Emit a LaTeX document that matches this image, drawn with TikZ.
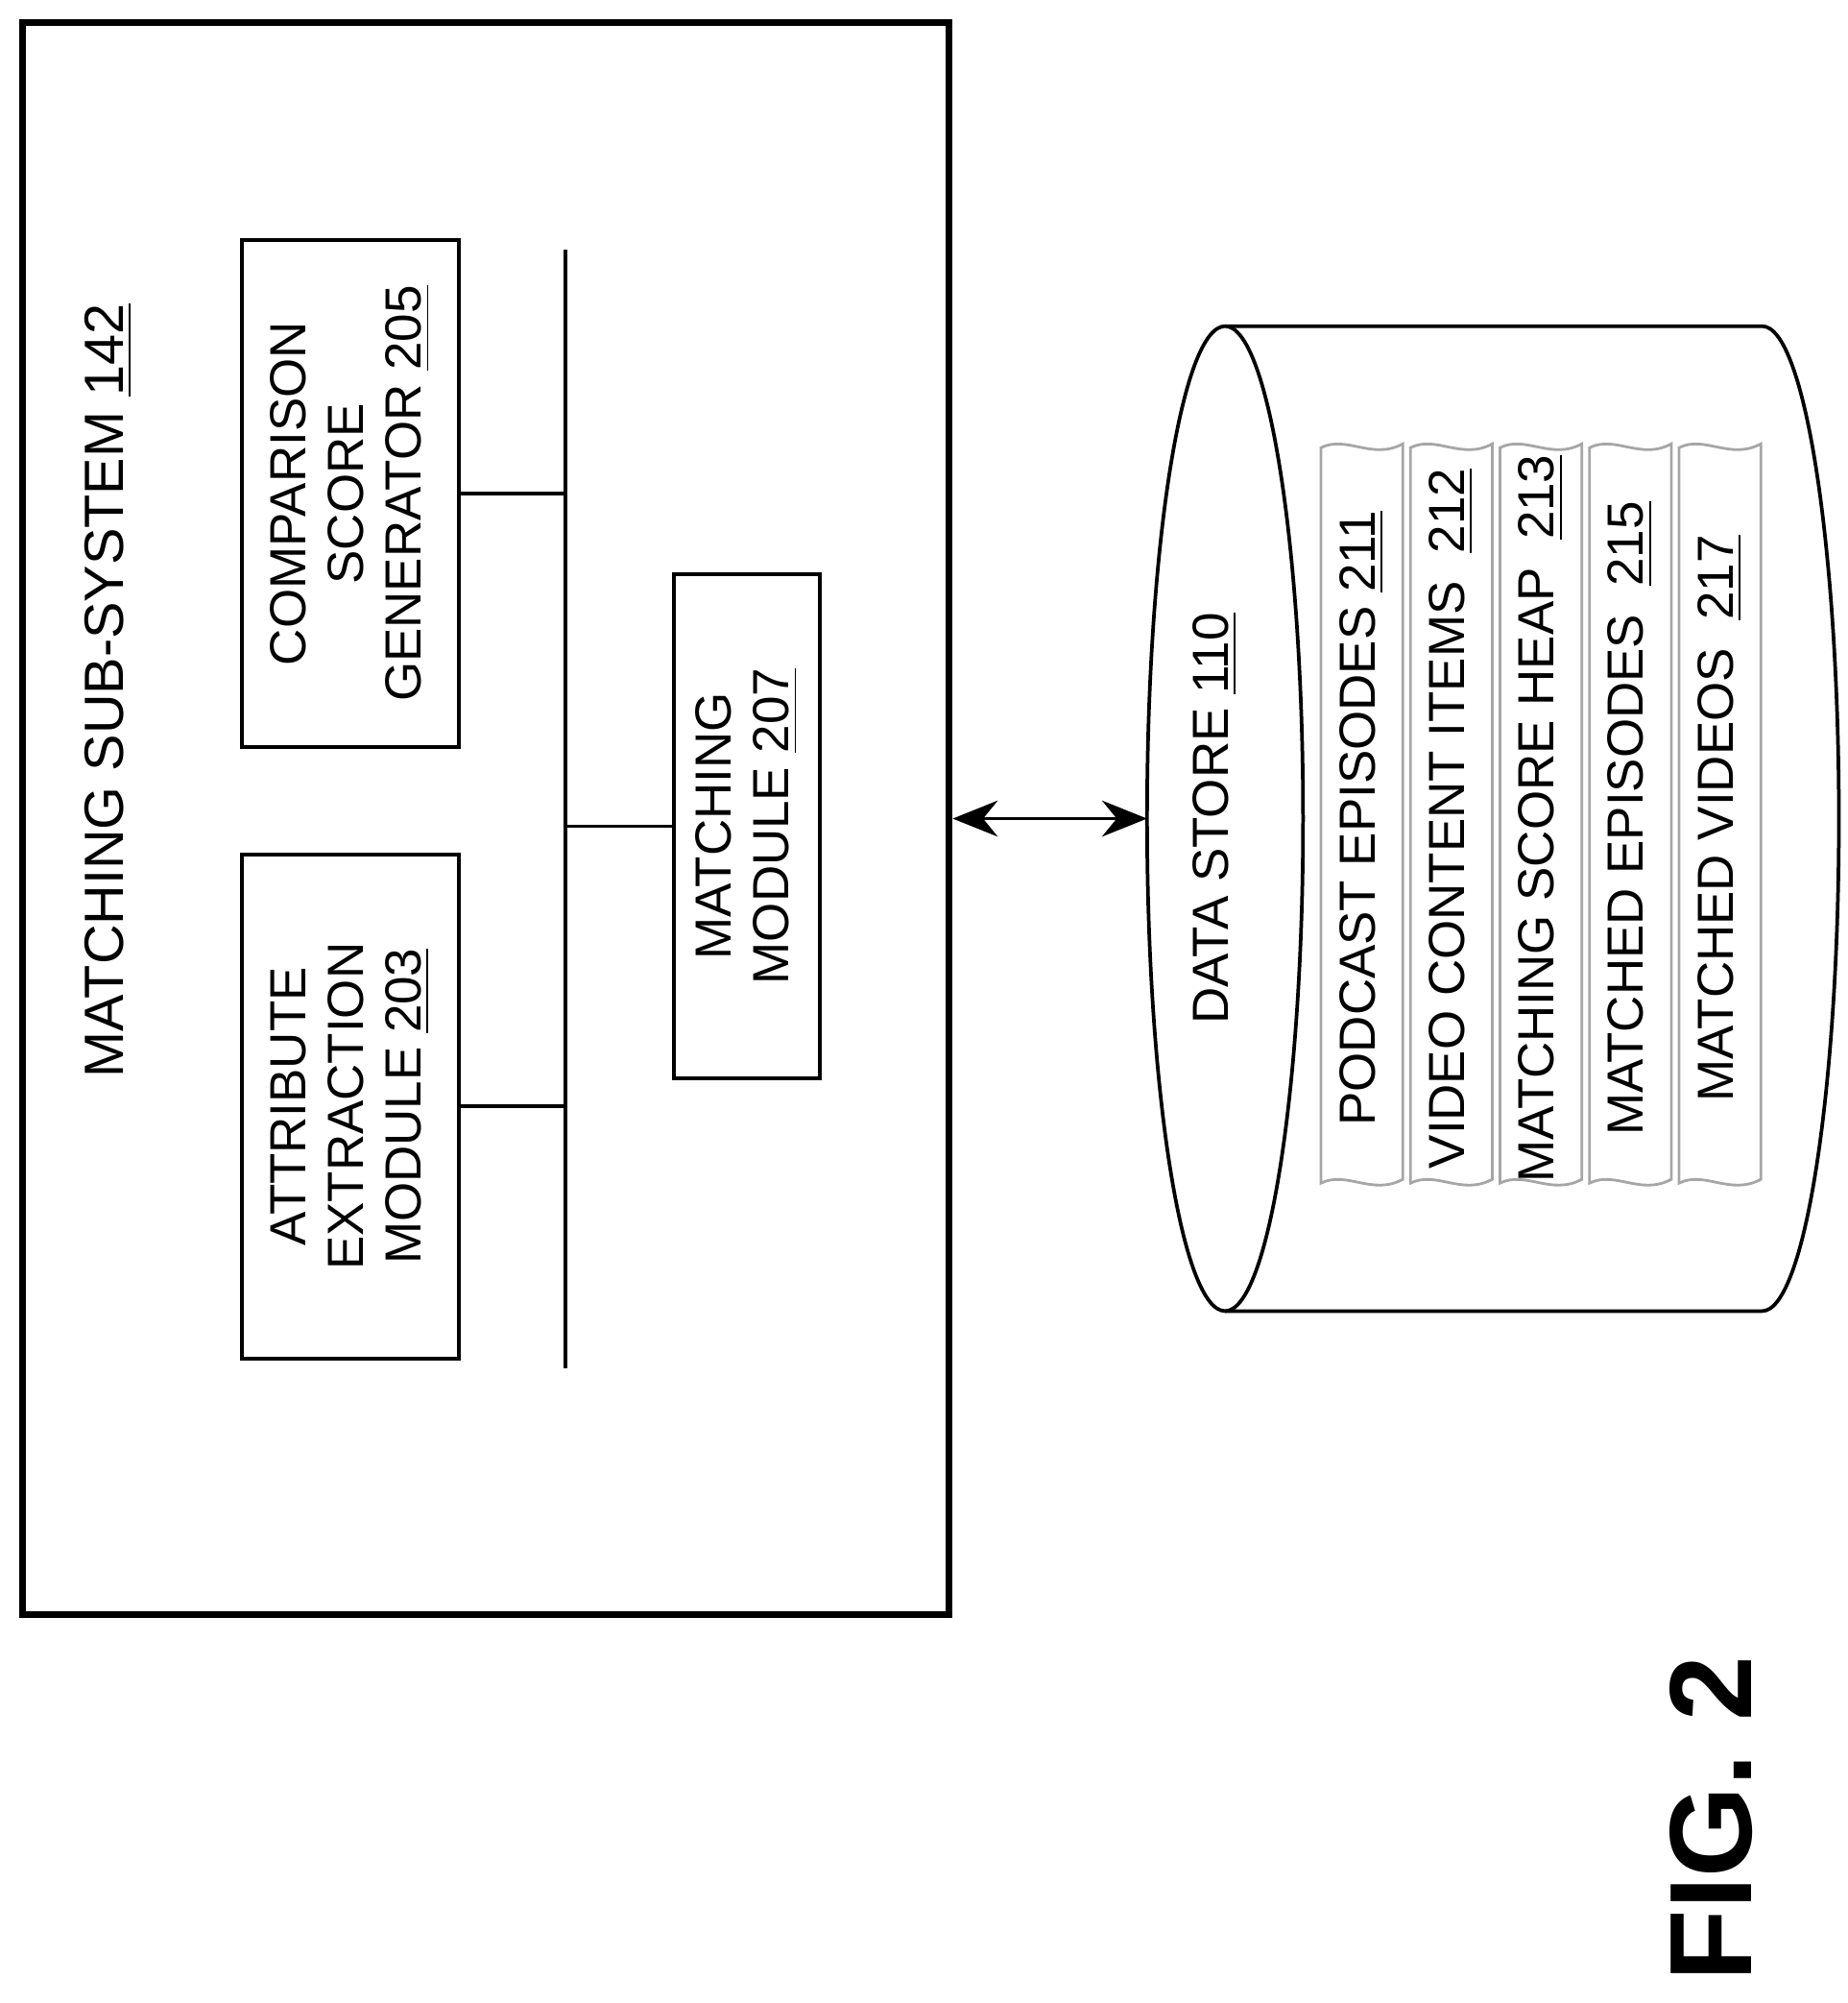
\documentclass[tikz,border=0pt]{standalone}
\usepackage{fontspec}
\setmainfont{Liberation Sans}
\usetikzlibrary{positioning, arrows.meta}
\tikzset{module/.style={
        draw,
        thick,
        rectangle,
        rotate=90,
        inner sep=2pt,
        align=center,
        font=\fontsize{11.3}{12.8}\selectfont
}}
\tikzset{label/.style={rotate=90, font=\fontsize{11.3}{12.8}\selectfont}}
\tikzset{strip/.style={draw=gray!70, line width=0.6pt}}
\tikzset{busedge/.style={draw,thick}}
\tikzset{storeedge/.style={draw,thick,{Stealth[length=10pt,width=8pt]}-{Stealth[length=10pt,width=8pt]}}}

\begin{document}
\begin{tikzpicture}[x=0.01cm,y=-0.01cm]
\useasboundingbox (0,0) rectangle (1445,1566);
% matching sub-system
\node[draw, line width=1.6pt, minimum width=7.24cm, minimum height=12.44cm] (sys) at (380,640) {};
\node[label, font=\fontsize{12.3}{13}\selectfont] (systitle) at (85,540) {MATCHING SUB-SYSTEM \underline{142}};
\node[module, minimum width=3.94cm, minimum height=1.70cm] (attr) at (274,865) {ATTRIBUTE\\EXTRACTION\\MODULE \underline{203}};
\node[module, minimum width=3.96cm, minimum height=1.70cm] (comp) at (274,386) {COMPARISON\\SCORE\\GENERATOR \underline{205}};
\node[module, minimum width=3.94cm, minimum height=1.14cm] (match) at (584,646) {MATCHING\\MODULE \underline{207}};
\coordinate (busTop) at (442,195);
\coordinate (busBot) at (442,1070);
\draw[busedge] (busTop) -- (busBot);
\draw[busedge] (attr.south) -- (attr.south -| busTop);
\draw[busedge] (comp.south) -- (comp.south -| busTop);
\draw[busedge] (match.north) -- (match.north -| busTop);

% data store
\coordinate (storeL) at (897,640);
\draw[thick] (958,255) -- (1378,255) arc[start angle=90, end angle=-90, x radius=60, y radius=-385] -- (958,1025);
\draw[thick, fill=white] (958,640) ellipse[x radius=61, y radius=385];
\node[label] (store) at (950,640) {DATA STORE \underline{110}};
\foreach \x/\txt/\n in {1033/PODCAST EPISODES \underline{211}/s1,
                        1103/VIDEO CONTENT ITEMS \ \underline{212}/s2,
                        1173/MATCHING SCORE HEAP \ \underline{213}/s3,
                        1243/MATCHED EPISODES \ \underline{215}/s4,
                        1313/MATCHED VIDEOS \ \underline{217}/s5}{
  \draw[strip] (\x,350) .. controls (\x+20,340) and (\x+40,360) .. (\x+64,347)
               -- (\x+64,922) .. controls (\x+40,935) and (\x+20,915) .. (\x,925) -- cycle;
  \node[label] (\n) at (\x+32,640) {\txt};
}
\draw[storeedge] (sys.east |- storeL) -- (storeL);

\node[rotate=90, font=\fontsize{26}{26}\selectfont\bfseries] (fig) at (1338,1422) {FIG. 2};
\end{tikzpicture}
\end{document}
